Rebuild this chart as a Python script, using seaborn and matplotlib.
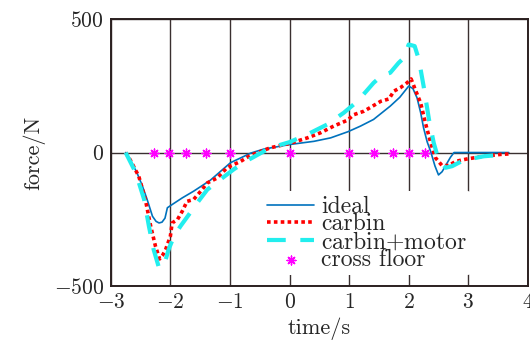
import numpy as np
import pandas as pd
import seaborn as sns
from matplotlib import pyplot as plt
from matplotlib.markers import MarkerStyle

# ideal (solid blue)
t_ideal = [-2.75, -2.65, -2.56, -2.47, -2.39, -2.30, -2.24, -2.19, -2.14, -2.09, -2.05,
           -1.95, -1.80, -1.61, -1.33, -0.99, -0.80, -0.65, -0.43, -0.2, 0.0, 0.41,
           0.69, 0.98, 1.19, 1.41, 1.69, 1.85, 2.0, 2.07, 2.14, 2.2, 2.25, 2.31, 2.37,
           2.44, 2.5, 2.56, 2.63, 2.70, 2.76, 3.0, 3.68]
f_ideal = [0, -36, -76, -125, -176, -239, -258, -264, -261, -246, -207,
           -192, -170, -145, -104, -38, -18, -2, 13, 22, 30, 42,
           55, 78, 99, 124, 174, 207, 249, 240, 205, 150, 92, 40, 3,
           -50, -84, -72, -45, -18, 0, 0, 0]

# carbin (red dotted)
t_carbin = [-2.75, -2.67, -2.53, -2.42, -2.33, -2.25, -2.18, -2.13, -2.08, -2.0, -1.97,
            -1.88, -1.8, -1.72, -1.61, -1.49, -1.38, -1.21, -1.05, -0.82, -0.65, -0.32,
            0.0, 0.3, 0.52, 0.74, 0.97, 1.08, 1.25, 1.41, 1.53, 1.67, 1.75, 1.86, 1.97,
            2.04, 2.11, 2.2, 2.28, 2.37, 2.45, 2.56, 2.67, 2.79, 2.98, 3.26, 3.54, 3.7]
f_carbin = [0, -29, -89, -176, -276, -351, -399, -385, -364, -314, -264,
            -251, -220, -183, -176, -145, -114, -95, -57, -33, -10, 18,
            34, 55, 74, 99, 121, 142, 155, 176, 192, 201, 230, 243, 261,
            276, 236, 186, 111, 36, -20, -49, -49, -33, -24, -14, -7, -5]

# carbin+motor (cyan dashed)
t_motor = [-2.75, -2.58, -2.44, -2.36, -2.28, -2.19, -2.11, -2.03, -1.94, -1.83, -1.69,
           -1.55, -1.38, -1.16, -0.93, -0.71, -0.32, 0.0, 0.3, 0.63, 0.91, 1.14, 1.41,
           1.55, 1.69, 1.83, 1.92, 2.0, 2.1, 2.17, 2.25, 2.34, 2.42, 2.5, 2.62, 2.73,
           2.92, 3.26, 3.65]
f_motor = [0, -76, -176, -276, -364, -433, -426, -364, -314, -276, -233,
           -189, -139, -101, -62, -30, 18, 39, 68, 105, 149, 192, 261,
           289, 299, 336, 355, 405, 399, 349, 249, 124, 36, -26, -57, -51,
           -29, -14, -7]

# cross floor (magenta stars)
t_cross = [-2.28, -2.02, -1.73, -1.41, -1.0, 0.0, 1.0, 1.41, 1.74, 2.01, 2.28]
f_cross = [0] * len(t_cross)


def main():
    sns.set_style('white')
    plt.rcParams['font.family'] = ['cmr10', 'DejaVu Serif']
    plt.rcParams['mathtext.fontset'] = 'cm'
    plt.rcParams['axes.formatter.use_mathtext'] = True
    plt.rcParams['axes.unicode_minus'] = True

    fig = plt.figure(figsize=(5.3, 3.42), dpi=100)
    ax = fig.add_axes([0.209, 0.164, 0.787, 0.780])

    sns.lineplot(x=t_ideal, y=f_ideal, ax=ax, color='#0072BD', linewidth=1.2,
                 label='ideal', sort=False)
    sns.lineplot(x=t_carbin, y=f_carbin, ax=ax, color='#FF0000', linewidth=2.6,
                 linestyle=(0, (1.0, 0.9)), label='carbin', sort=False)
    sns.lineplot(x=t_motor, y=f_motor, ax=ax, color='#22EEEE', linewidth=3.0,
                 linestyle=(0, (4.5, 3.5)), label=r'carbin$+$motor', sort=False)
    sns.scatterplot(x=t_cross, y=f_cross, ax=ax, color='#FF00FF',
                    marker=MarkerStyle((8, 2, 0)), s=40, linewidth=1.0,
                    edgecolor='#FF00FF', label='cross floor', zorder=5)

    ax.set_xlim(-3, 4)
    ax.set_ylim(-500, 500)
    ax.set_xticks(range(-3, 5))
    ax.set_yticks([-500, 0, 500])
    ax.grid(True, color='#3a3030', linewidth=1.0)
    ax.set_axisbelow(True)
    for sp in ax.spines.values():
        sp.set_color('#2b2020')
        sp.set_linewidth(1.4)
    ax.tick_params(labelsize=15.5, length=0, pad=5)
    ax.set_xlabel('time/s', fontsize=16, labelpad=4)
    ax.set_ylabel('force/N', fontsize=16, labelpad=6)

    leg = ax.legend(loc='lower left', bbox_to_anchor=(0.335, -0.005), frameon=True,
                    fontsize=17, handlelength=2.0, handletextpad=0.3,
                    labelspacing=-0.2, borderpad=0.2)
    leg.get_frame().set_edgecolor('none')
    leg.get_frame().set_facecolor('white')
    leg.get_frame().set_alpha(1.0)

    fig.savefig('out.png', dpi=100)


if __name__ == '__main__':
    main()
